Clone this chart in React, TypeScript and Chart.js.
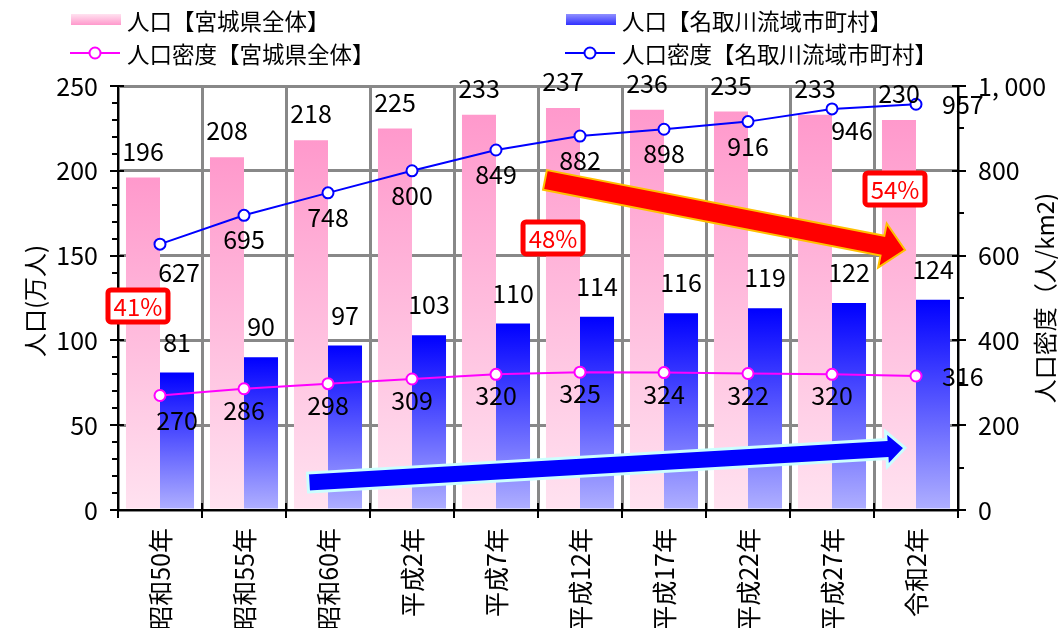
import React, { useEffect, useRef } from "react";
import { Chart, registerables } from "chart.js";
Chart.register(...registerables);

// ---------------- data ----------------
const categories = ["昭和50年", "昭和55年", "昭和60年", "平成2年", "平成7年", "平成12年", "平成17年", "平成22年", "平成27年", "令和2年"];
const popMiyagi = [196, 208, 218, 225, 233, 237, 236, 235, 233, 230];
const popNatori = [81, 90, 97, 103, 110, 114, 116, 119, 122, 124];
const densityMiyagi = [270, 286, 298, 309, 320, 325, 324, 322, 320, 316];
const densityNatori = [627, 695, 748, 800, 849, 882, 898, 916, 946, 957];
const shareTexts = ["41%", "48%", "54%"];
const seriesNames = ["人口【宮城県全体】", "人口【名取川流域市町村】", "人口密度【宮城県全体】", "人口密度【名取川流域市町村】"];
const leftTitle = "人口(万人)";
const rightTitle = "人口密度（人/km2)";
const leftTickStep = 50;
const rightTickStep = 200;

// ---------------- styles ----------------
const JP = "'Noto Sans CJK JP', 'Noto Sans', sans-serif";
const NUM = "'Noto Sans CJK JP', sans-serif";
const PINK_TOP = "#ff99cc";
const PINK_BOTTOM = "#ffe2f0";
const BLUE_TOP = "#0000ff";
const BLUE_BOTTOM = "#b0b0ff";
const PINK_LINE = "#ff00ff";
const BLUE_LINE = "#0000ff";
const GRID = "#888888";

function barGradient(top: string, bottom: string) {
  return (c: any) => {
    const chart = c.chart;
    const ys = chart.scales && chart.scales.y;
    if (!ys || c.type !== "data" || !chart.chartArea) return top;
    const y0 = ys.getPixelForValue(c.raw);
    const y1 = ys.getPixelForValue(0);
    if (!isFinite(y0) || !isFinite(y1) || y0 === y1) return top;
    const g = chart.ctx.createLinearGradient(0, y0, 0, y1);
    g.addColorStop(0, top);
    g.addColorStop(1, bottom);
    return g;
  };
}

// annotation placement in scale units (category index, left-axis value)
const boxPlaces = [
  { xi: -0.262, v: 120.3 },
  { xi: 4.679, v: 160.4 },
  { xi: 8.75, v: 189.3 },
];
const arrowDefs = [
  { from: [4.583, 194.6], to: [8.869, 153.3], shaft: 20, headLen: 23, headHalf: 22.5, fill: "#ff0000", stroke: "#ffc000", strokeW: 2 },
  { from: [1.762, 16.2], to: [8.869, 36.6], shaft: 19, headLen: 18.5, headHalf: 17.5, fill: "#0000ff", stroke: "#ccffff", strokeW: 3 },
];

const overlayPlugin = {
  id: "overlay",
  afterDatasetsDraw(chart: any) {
    const { ctx, scales } = chart;
    const xs = scales.x, ys = scales.y, y1s = scales.y1;
    const step = xs.getPixelForValue(1) - xs.getPixelForValue(0);
    const px = (xi: number) => xs.getPixelForValue(0) + xi * step;
    const py = (v: number) => ys.getPixelForValue(v);
    const L = xs.left, R = xs.right, T = ys.top, B = ys.bottom;

    ctx.save();
    // axes
    ctx.strokeStyle = "#000";
    ctx.lineWidth = 2;
    ctx.beginPath();
    ctx.moveTo(L, T); ctx.lineTo(L, B);
    ctx.moveTo(R, T); ctx.lineTo(R, B);
    ctx.moveTo(L, B); ctx.lineTo(R, B);
    for (let v = 0; v <= 250; v += 10) {
      const y = Math.round(py(v));
      if (v % leftTickStep === 0) { ctx.moveTo(L - 8, y); ctx.lineTo(L + 6, y); }
      else { ctx.moveTo(L - 6, y); ctx.lineTo(L, y); }
    }
    for (let v = 0; v <= 1000; v += 100) {
      const y = Math.round(y1s.getPixelForValue(v));
      if (v % rightTickStep === 0) { ctx.moveTo(R - 6, y); ctx.lineTo(R + 8, y); }
      else { ctx.moveTo(R, y); ctx.lineTo(R + 6, y); }
    }
    for (let i = 0; i <= categories.length; i++) {
      const x = Math.round(px(i - 0.5));
      ctx.moveTo(x, B - 7); ctx.lineTo(x, B + 8);
    }
    ctx.stroke();

    // arrows
    arrowDefs.forEach((a) => {
      const sx = px(a.from[0]), sy = py(a.from[1]);
      const tx = px(a.to[0]), ty = py(a.to[1]);
      const dx = tx - sx, dy = ty - sy;
      const len = Math.hypot(dx, dy);
      const ux = dx / len, uy = dy / len;
      const nx = -uy, ny = ux;
      const bx = tx - ux * a.headLen, by = ty - uy * a.headLen;
      const w = a.shaft / 2;
      ctx.beginPath();
      ctx.moveTo(sx + nx * w, sy + ny * w);
      ctx.lineTo(bx + nx * w, by + ny * w);
      ctx.lineTo(bx + nx * a.headHalf, by + ny * a.headHalf);
      ctx.lineTo(tx, ty);
      ctx.lineTo(bx - nx * a.headHalf, by - ny * a.headHalf);
      ctx.lineTo(bx - nx * w, by - ny * w);
      ctx.lineTo(sx - nx * w, sy - ny * w);
      ctx.closePath();
      ctx.fillStyle = a.fill;
      ctx.fill();
      ctx.lineWidth = a.strokeW;
      ctx.strokeStyle = a.stroke;
      ctx.lineJoin = "miter";
      ctx.stroke();
    });

    // share boxes
    boxPlaces.forEach((b, i) => {
      const cx = px(b.xi), cy = py(b.v);
      const w = 60, h = 32;
      ctx.beginPath();
      ctx.roundRect(cx - w / 2, cy - h / 2, w, h, 3);
      ctx.fillStyle = "#fff";
      ctx.fill();
      ctx.lineWidth = 5;
      ctx.strokeStyle = "#ff0000";
      ctx.stroke();
      ctx.fillStyle = "#ff0000";
      ctx.font = `24px ${JP}`;
      ctx.textAlign = "center";
      ctx.textBaseline = "middle";
      ctx.fillText(shareTexts[i], cx, cy + 1);
    });

    // value labels
    const size = 25;
    ctx.font = `${size}px ${NUM}`;
    ctx.fillStyle = "#000";
    ctx.textBaseline = "alphabetic";
    const put = (t: string, x: number, cy: number, align: CanvasTextAlign) => {
      ctx.textAlign = align;
      ctx.fillText(t, x, cy + size * 0.365);
    };
    const barOffsets = [26, 30];
    [0, 1].forEach((di) => {
      const meta = chart.getDatasetMeta(di);
      const data = chart.data.datasets[di].data;
      meta.data.forEach((el: any, i: number) => put(String(data[i]), el.x, el.y - barOffsets[di], "center"));
    });
    const lineShift: Record<number, Record<number, number[]>> = {
      2: { 0: [17, 25] },
      3: { 0: [19, 29], 8: [20, 22] },
    };
    [2, 3].forEach((di) => {
      const meta = chart.getDatasetMeta(di);
      const data = chart.data.datasets[di].data;
      const n = data.length;
      meta.data.forEach((el: any, i: number) => {
        if (i === n - 1) { put(String(data[i]), el.x + 26, el.y + 1, "left"); return; }
        const s = lineShift[di][i] || [0, di === 2 ? 22 : 25];
        put(String(data[i]), el.x + s[0], el.y + s[1], "center");
      });
    });
    ctx.restore();
  },
  afterDraw(chart: any) {
    const { ctx, scales } = chart;
    const ys = scales.y;
    const midY = (ys.top + ys.bottom) / 2;
    ctx.save();
    // axis titles (both read bottom-to-top)
    ctx.fillStyle = "#000";
    ctx.font = `24px ${JP}`;
    ctx.textAlign = "center";
    ctx.textBaseline = "middle";
    [[35, midY + 3, leftTitle], [1045, midY, rightTitle]].forEach(([x, y, t]: any) => {
      ctx.save();
      ctx.translate(x, y);
      ctx.rotate(-Math.PI / 2);
      ctx.fillText(t, 0, 0);
      ctx.restore();
    });
    // legend
    const items = [
      { x: 71, y: 20, kind: "bar", c: [PINK_BOTTOM, PINK_TOP], text: seriesNames[0] },
      { x: 566, y: 20, kind: "bar", c: ["#9090ff", "#3030ff"], text: seriesNames[1] },
      { x: 71, y: 53, kind: "line", c: [PINK_LINE], text: seriesNames[2] },
      { x: 566, y: 53, kind: "line", c: [BLUE_LINE], text: seriesNames[3] },
    ];
    items.forEach((it) => {
      if (it.kind === "bar") {
        const g = ctx.createLinearGradient(0, it.y - 6, 0, it.y + 5);
        g.addColorStop(0, it.c[0]);
        g.addColorStop(1, it.c[1]);
        ctx.fillStyle = g;
        ctx.fillRect(it.x, it.y - 6, 50, 11);
      } else {
        ctx.strokeStyle = it.c[0];
        ctx.lineWidth = 2;
        ctx.beginPath();
        ctx.moveTo(it.x - 1, it.y); ctx.lineTo(it.x + 49, it.y);
        ctx.stroke();
        ctx.beginPath();
        ctx.arc(it.x + 24, it.y, 5.5, 0, Math.PI * 2);
        ctx.fillStyle = "#fff";
        ctx.fill();
        ctx.stroke();
      }
      ctx.fillStyle = "#000";
      ctx.font = `22.5px ${JP}`;
      ctx.textAlign = "left";
      ctx.textBaseline = "middle";
      ctx.fillText(it.text, it.x + 56, it.y + 1);
    });
    ctx.restore();
  },
};

export default function App() {
  const ref = useRef<HTMLCanvasElement | null>(null);
  useEffect(() => {
    if (!ref.current) return;
    const lineCommon = {
      type: "line" as const,
      yAxisID: "y1",
      borderWidth: 2,
      pointRadius: 5.5,
      pointBorderWidth: 2,
      pointBackgroundColor: "#ffffff",
      tension: 0,
      order: 0,
    };
    const chart = new Chart(ref.current, {
      type: "bar",
      data: {
        labels: categories,
        datasets: [
          { type: "bar", label: seriesNames[0], data: popMiyagi, yAxisID: "y", backgroundColor: barGradient(PINK_TOP, PINK_BOTTOM), categoryPercentage: 0.81, barPercentage: 1, order: 1 },
          { type: "bar", label: seriesNames[1], data: popNatori, yAxisID: "y", backgroundColor: barGradient(BLUE_TOP, BLUE_BOTTOM), categoryPercentage: 0.81, barPercentage: 1, order: 1 },
          { ...lineCommon, label: seriesNames[2], data: densityMiyagi, borderColor: PINK_LINE, pointBorderColor: PINK_LINE },
          { ...lineCommon, label: seriesNames[3], data: densityNatori, borderColor: BLUE_LINE, pointBorderColor: BLUE_LINE },
        ] as any,
      },
      options: {
        responsive: false,
        animation: false,
        devicePixelRatio: 1,
        layout: { padding: { top: 86, left: 0, right: 0, bottom: 0 } },
        plugins: { legend: { display: false }, tooltip: { enabled: false } },
        scales: {
          x: {
            type: "category",
            grid: { offset: true, color: GRID, lineWidth: 3, drawTicks: false },
            border: { display: false },
            ticks: { autoSkip: false, minRotation: 90, maxRotation: 90, padding: 18, color: "#000", font: { family: JP, size: 25 } },
            afterFit: (s: any) => { s.height = 118; },
          },
          y: {
            position: "left",
            min: 0,
            max: 250,
            grid: { color: GRID, lineWidth: 3, drawTicks: false },
            border: { display: false },
            ticks: { stepSize: leftTickStep, padding: 20, color: "#000", font: { family: NUM, size: 25 } },
            afterFit: (s: any) => { s.width = 118; },
          },
          y1: {
            position: "right",
            min: 0,
            max: 1000,
            grid: { display: false, drawTicks: false },
            border: { display: false },
            ticks: {
              stepSize: rightTickStep,
              padding: 20,
              color: "#000",
              font: { family: NUM, size: 25 },
              callback: (v: any) => (v >= 1000 ? String(v).replace(/(\d)(\d{3})$/, "$1, $2") : String(v)),
            },
            afterFit: (s: any) => { s.width = 100; },
          },
        },
      } as any,
      plugins: [overlayPlugin],
    });
    return () => chart.destroy();
  }, []);
  return (
    <div style={{ position: "fixed", left: 0, top: 0, width: 1058, height: 628, background: "#fff" }}>
      <canvas ref={ref} width={1058} height={628} style={{ width: 1058, height: 628, display: "block" }} />
    </div>
  );
}
